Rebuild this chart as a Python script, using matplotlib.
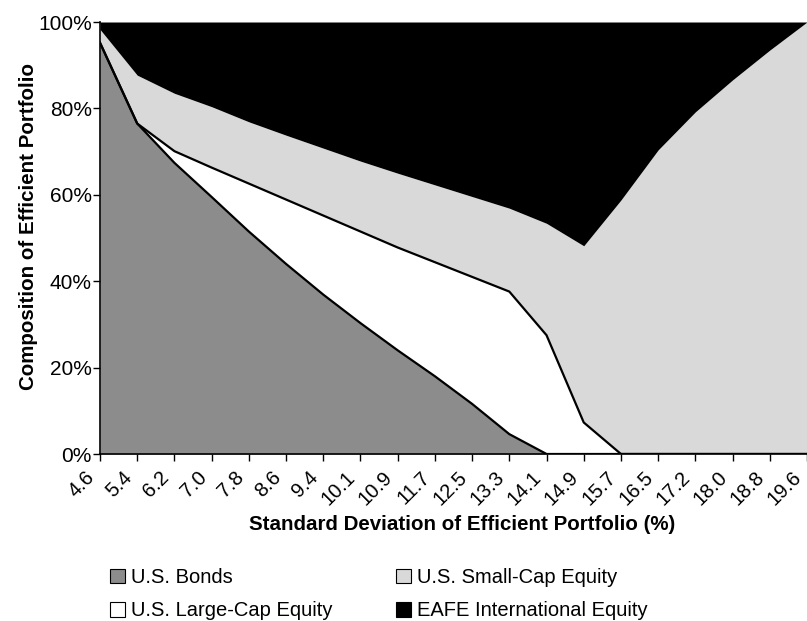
import matplotlib
matplotlib.use("Agg")
import matplotlib.pyplot as plt
import matplotlib.transforms as mtransforms
import numpy as np

plt.rcParams['font.family'] = ['Liberation Sans', 'DejaVu Sans']

std_dev = ["4.6", "5.4", "6.2", "7.0", "7.8", "8.6", "9.4", "10.1", "10.9", "11.7",
           "12.5", "13.3", "14.1", "14.9", "15.7", "16.5", "17.2", "18.0", "18.8", "19.6"]
bonds = [95.2, 76.5, 67.4, 59.5, 51.5, 44.0, 36.9, 30.3, 24.0, 18.0,
         11.6, 4.6, 0, 0, 0, 0, 0, 0, 0, 0]
large_cap = [0, 0, 2.7, 6.8, 11.1, 14.9, 18.3, 21.2, 23.8, 26.4,
             29.4, 33.0, 27.5, 7.3, 0, 0, 0, 0, 0, 0]
small_cap = [3.1, 11.2, 13.4, 14.1, 14.3, 14.9, 15.6, 16.3, 17.2, 17.9,
             18.6, 19.3, 25.9, 40.9, 58.8, 70.4, 79.2, 86.6, 93.5, 100]
eafe = [1.7, 12.3, 16.5, 19.6, 23.1, 26.2, 29.2, 32.2, 35.0, 37.7,
        40.4, 43.1, 46.6, 51.8, 41.2, 29.6, 20.8, 13.4, 6.5, 0]

labels = ["U.S. Bonds", "U.S. Large-Cap Equity", "U.S. Small-Cap Equity", "EAFE International Equity"]
colors = ["#8c8c8c", "#ffffff", "#d9d9d9", "#000000"]

fig = plt.figure(figsize=(8.07, 6.21), dpi=100)
ax = fig.add_axes([100 / 807, 167 / 621, 707 / 807, 432 / 621])

x = np.arange(len(std_dev))
series = [bonds, large_cap, small_cap, eafe]
bottom = np.zeros(len(x))
handles = []
for vals, col, lab in zip(series, colors, labels):
    top = bottom + np.array(vals)
    ax.fill_between(x, bottom, top, color=col, linewidth=0)
    handles.append(plt.Rectangle((0, 0), 1, 1, facecolor=col, edgecolor="#000000", linewidth=0.8, label=lab))
    bottom = top

# outlines on bonds and large-cap boundaries
cum_bonds = np.array(bonds)
cum_large = cum_bonds + np.array(large_cap)
ax.plot(x, cum_bonds, color="black", lw=1.6)
ax.plot(x, cum_large, color="black", lw=1.6)

ax.set_xlim(0, len(x) - 1)
ax.set_ylim(0, 100)
ax.set_yticks([0, 20, 40, 60, 80, 100])
ax.set_yticklabels(["0%", "20%", "40%", "60%", "80%", "100%"], fontsize=15)
ax.tick_params(axis="both", direction="out", length=5, width=1, color="black", pad=1)
ax.tick_params(axis="x", pad=5)
ax.set_xticks(x)
ax.set_xticklabels(std_dev, rotation=45, ha="right", va="top", fontsize=14.5)
shift = mtransforms.ScaledTranslation(-1.5 / 100, 0, fig.dpi_scale_trans)
for t in ax.get_xticklabels():
    t.set_transform(t.get_transform() + shift)
for s in ["top", "right"]:
    ax.spines[s].set_visible(False)
for s in ["left", "bottom"]:
    ax.spines[s].set_linewidth(1.2)
    ax.spines[s].set_zorder(5)

fig.text(462 / 807, 1 - 524 / 621, "Standard Deviation of Efficient Portfolio (%)",
         ha="center", va="center", fontsize=14.8, fontweight="bold")
fig.text(29 / 807, 1 - 226 / 621, "Composition of Efficient Portfolio",
         ha="center", va="center", rotation=90, fontsize=14.8, fontweight="bold")

for col_idx, x0 in enumerate([110, 396]):
    idx = [0, 1] if col_idx == 0 else [2, 3]
    fig.legend([handles[i] for i in idx], [labels[i] for i in idx],
               loc="upper left", bbox_to_anchor=(x0 / 807, 1 - 568 / 621), frameon=False,
               fontsize=14.5, handlelength=0.75, handleheight=0.75, handletextpad=0.3,
               labelspacing=0.72, borderaxespad=0, borderpad=0)

fig.savefig("out.png", dpi=100)
